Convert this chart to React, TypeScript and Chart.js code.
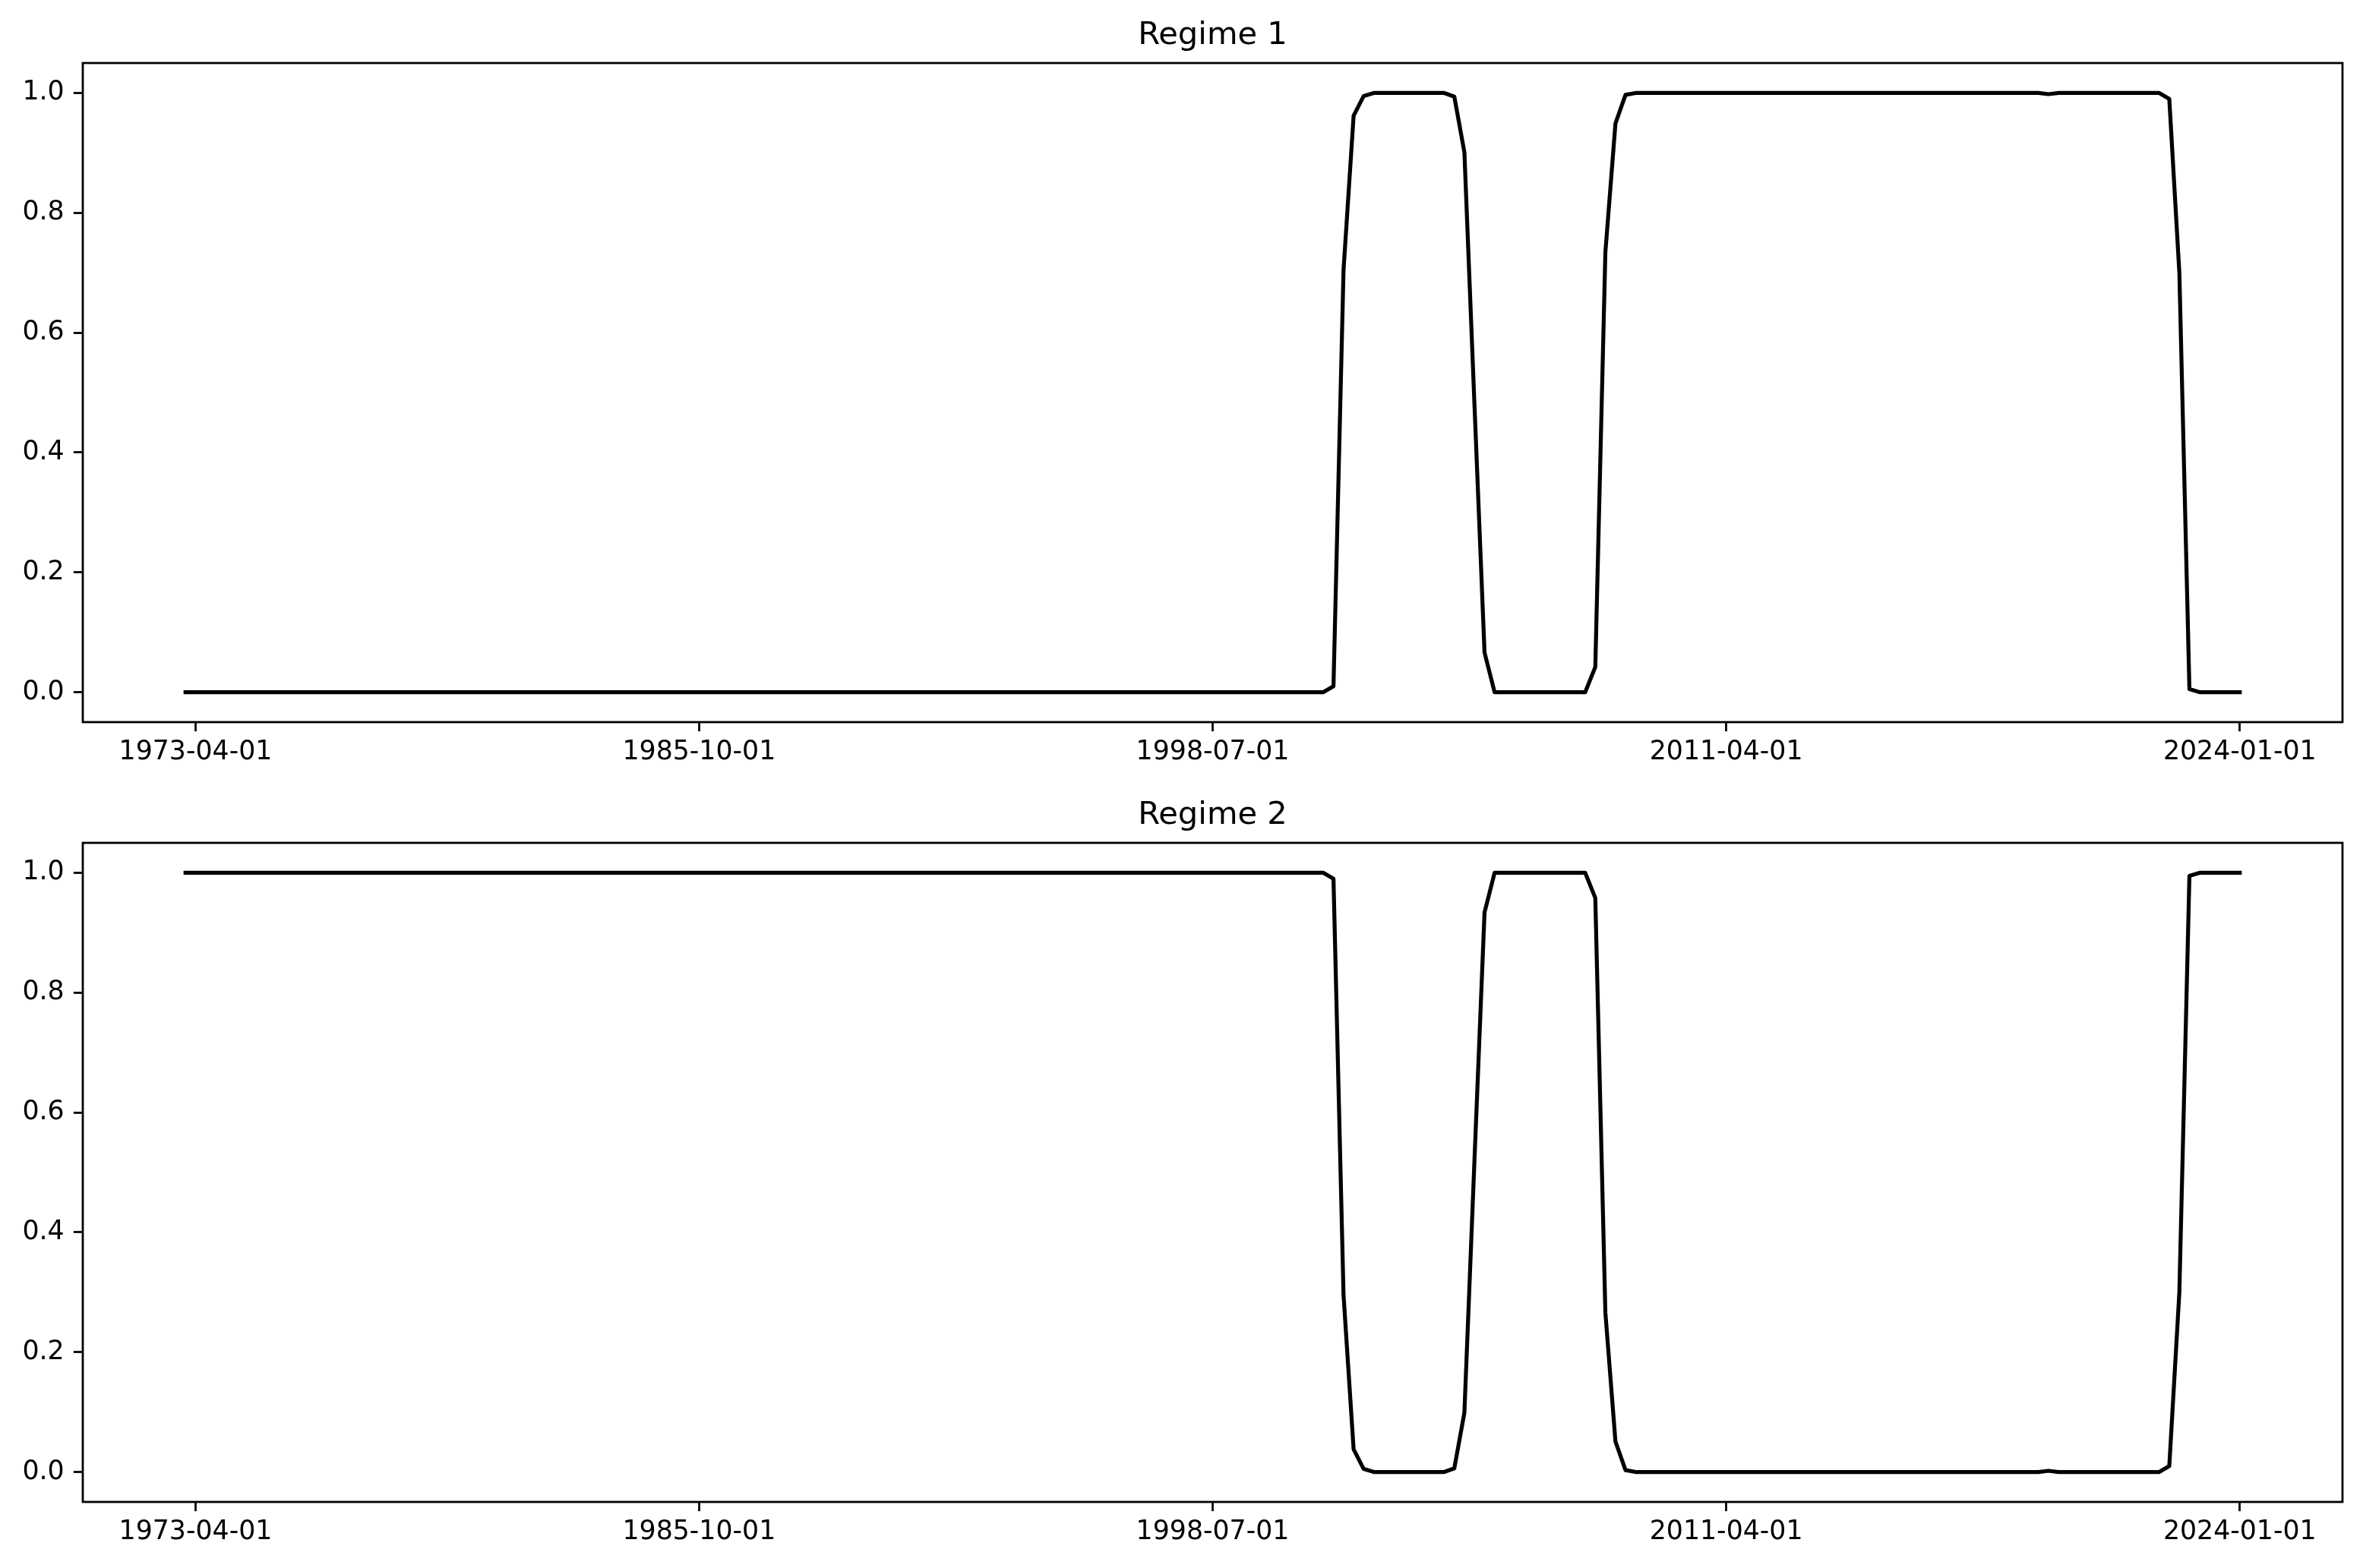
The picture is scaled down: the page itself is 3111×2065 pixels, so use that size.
import React, { useEffect, useRef } from 'react';
import { Chart, registerables } from 'chart.js';

Chart.register(...registerables);

// ---- data (quarterly observations, index 0..204) ----
const xTickPositions = [1, 51, 102, 153, 204];
const xTickLabels = ['1973-04-01', '1985-10-01', '1998-07-01', '2011-04-01', '2024-01-01'];
const yTickValues = [0, 0.2, 0.4, 0.6, 0.8, 1.0];
const titles = ['Regime 1', 'Regime 2'];

const regime1 = [
  0, 0, 0, 0, 0, 0, 0, 0, 0, 0, // 0-9
  0, 0, 0, 0, 0, 0, 0, 0, 0, 0, // 10-19
  0, 0, 0, 0, 0, 0, 0, 0, 0, 0, // 20-29
  0, 0, 0, 0, 0, 0, 0, 0, 0, 0, // 30-39
  0, 0, 0, 0, 0, 0, 0, 0, 0, 0, // 40-49
  0, 0, 0, 0, 0, 0, 0, 0, 0, 0, // 50-59
  0, 0, 0, 0, 0, 0, 0, 0, 0, 0, // 60-69
  0, 0, 0, 0, 0, 0, 0, 0, 0, 0, // 70-79
  0, 0, 0, 0, 0, 0, 0, 0, 0, 0, // 80-89
  0, 0, 0, 0, 0, 0, 0, 0, 0, 0, // 90-99
  0, 0, 0, 0, 0, 0, 0, 0, 0, 0, // 100-109
  0, 0, 0, 0, // 110-113
  0.01, 0.705, 0.962, 0.995, // 114-117
  1, 1, 1, 1, 1, 1, 1, 1, // 118-125
  0.994, 0.901, 0.48, 0.066, // 126-129
  0, 0, 0, 0, 0, 0, 0, 0, 0, 0, // 130-139
  0.042, 0.734, 0.949, 0.997, // 140-143
  1, 1, 1, 1, 1, 1, 1, 1, 1, 1, // 144-153
  1, 1, 1, 1, 1, 1, 1, 1, 1, 1, // 154-163
  1, 1, 1, 1, 1, 1, 1, 1, 1, 1, // 164-173
  1, 1, 1, 1, 1, 1, 1, 1, 1, 1, // 174-183
  1, 0.998, 1, 1, 1, 1, 1, 1, 1, 1, // 184-193
  1, 1, 1, // 194-196
  0.99, 0.70, 0.005, // 197-199
  0, 0, 0, 0, 0, // 200-204
];

const regime2 = [
  1, 1, 1, 1, 1, 1, 1, 1, 1, 1, // 0-9
  1, 1, 1, 1, 1, 1, 1, 1, 1, 1, // 10-19
  1, 1, 1, 1, 1, 1, 1, 1, 1, 1, // 20-29
  1, 1, 1, 1, 1, 1, 1, 1, 1, 1, // 30-39
  1, 1, 1, 1, 1, 1, 1, 1, 1, 1, // 40-49
  1, 1, 1, 1, 1, 1, 1, 1, 1, 1, // 50-59
  1, 1, 1, 1, 1, 1, 1, 1, 1, 1, // 60-69
  1, 1, 1, 1, 1, 1, 1, 1, 1, 1, // 70-79
  1, 1, 1, 1, 1, 1, 1, 1, 1, 1, // 80-89
  1, 1, 1, 1, 1, 1, 1, 1, 1, 1, // 90-99
  1, 1, 1, 1, 1, 1, 1, 1, 1, 1, // 100-109
  1, 1, 1, 1, // 110-113
  0.99, 0.295, 0.038, 0.005, // 114-117
  0, 0, 0, 0, 0, 0, 0, 0, // 118-125
  0.006, 0.099, 0.52, 0.934, // 126-129
  1, 1, 1, 1, 1, 1, 1, 1, 1, 1, // 130-139
  0.958, 0.266, 0.051, 0.003, // 140-143
  0, 0, 0, 0, 0, 0, 0, 0, 0, 0, // 144-153
  0, 0, 0, 0, 0, 0, 0, 0, 0, 0, // 154-163
  0, 0, 0, 0, 0, 0, 0, 0, 0, 0, // 164-173
  0, 0, 0, 0, 0, 0, 0, 0, 0, 0, // 174-183
  0, 0.002, 0, 0, 0, 0, 0, 0, 0, 0, // 184-193
  0, 0, 0, // 194-196
  0.01, 0.30, 0.995, // 197-199
  1, 1, 1, 1, 1, // 200-204
];

// ---- styling ----
const W = 3111;
const H = 1032;
const PT = 250 / 72;
const FONT = "'DejaVu Sans', sans-serif";
const AREA_LEFT = 109;
const AREA_RIGHT = 3084;
const AREA_BOTTOM = 951;

const framePlugin = {
  id: 'axesFrame',
  afterLayout(chart: any) {
    // centre the title over the plotting area (matplotlib style)
    const t = chart.titleBlock;
    const a = chart.chartArea;
    if (t && a) {
      t.left = a.left;
      t.right = a.right;
      t.width = a.right - a.left;
    }
  },
  afterDatasetsDraw(chart: any) {
    const { ctx, chartArea: a } = chart;
    ctx.save();
    ctx.strokeStyle = '#000';
    ctx.lineWidth = 0.8 * PT;
    ctx.strokeRect(a.left, a.top, a.right - a.left, a.bottom - a.top);
    ctx.restore();
  },
};

function makeConfig(title: string, values: number[]): any {
  return {
    type: 'line',
    data: {
      datasets: [
        {
          data: values.map((v, i) => ({ x: i, y: v })),
          borderColor: '#000',
          borderWidth: 1.5 * PT,
          pointRadius: 0,
          tension: 0,
          borderCapStyle: 'square',
          borderJoinStyle: 'round',
          fill: false,
        },
      ],
    },
    options: {
      animation: false,
      responsive: false,
      maintainAspectRatio: false,
      devicePixelRatio: 1,
      layout: { padding: { left: 0, right: W - AREA_RIGHT, top: 0, bottom: 0 } },
      plugins: {
        legend: { display: false },
        tooltip: { enabled: false },
        title: {
          display: true,
          text: title,
          color: '#000',
          font: { family: FONT, size: 12 * PT, weight: 'normal', lineHeight: 1.2 },
          padding: { top: 22, bottom: 11 },
        },
      },
      scales: {
        x: {
          type: 'linear',
          min: -10.2,
          max: 214.2,
          afterBuildTicks: (s: any) => {
            s.ticks = xTickPositions.map((v) => ({ value: v }));
          },
          afterFit: (s: any) => {
            s.height = H - AREA_BOTTOM;
          },
          border: { display: false },
          grid: {
            display: true,
            drawOnChartArea: false,
            drawTicks: true,
            tickLength: 3.5 * PT,
            tickWidth: 0.8 * PT,
            tickColor: '#000',
          },
          ticks: {
            autoSkip: false,
            maxRotation: 0,
            minRotation: 0,
            color: '#000',
            padding: 7,
            font: { family: FONT, size: 10 * PT },
            callback: (v: number) => {
              const i = xTickPositions.indexOf(v);
              return i >= 0 ? xTickLabels[i] : '';
            },
          },
        },
        y: {
          type: 'linear',
          min: -0.05,
          max: 1.05,
          afterBuildTicks: (s: any) => {
            s.ticks = yTickValues.map((v) => ({ value: v }));
          },
          afterFit: (s: any) => {
            s.width = AREA_LEFT;
          },
          border: { display: false },
          grid: {
            display: true,
            drawOnChartArea: false,
            drawTicks: true,
            tickLength: 3.5 * PT,
            tickWidth: 0.8 * PT,
            tickColor: '#000',
          },
          ticks: {
            color: '#000',
            padding: 3.5 * PT,
            font: { family: FONT, size: 10 * PT },
            callback: (v: number) => Number(v).toFixed(1),
          },
        },
      },
    },
    plugins: [framePlugin],
  };
}

function Panel({ title, values, top }: { title: string; values: number[]; top: number }) {
  const ref = useRef<HTMLCanvasElement | null>(null);
  useEffect(() => {
    if (!ref.current) return;
    const chart = new Chart(ref.current, makeConfig(title, values));
    return () => chart.destroy();
  }, [title, values]);
  return (
    <canvas
      ref={ref}
      width={W}
      height={H}
      style={{ position: 'absolute', left: 0, top, width: W, height: H, display: 'block' }}
    />
  );
}

export default function App() {
  return (
    <div
      style={{
        position: 'absolute',
        left: 0,
        top: 0,
        width: W,
        height: 2065,
        background: '#fff',
        overflow: 'hidden',
      }}
    >
      <Panel title={titles[0]} values={regime1} top={0} />
      <Panel title={titles[1]} values={regime2} top={1027} />
    </div>
  );
}
